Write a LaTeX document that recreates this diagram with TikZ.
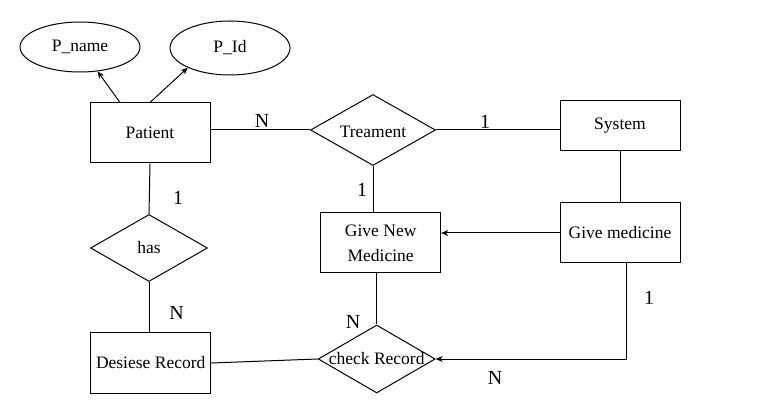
\documentclass[tikz,border=0pt]{standalone}
\usepackage{fontspec}
\setmainfont{Liberation Serif}
\usetikzlibrary{shapes.geometric,arrows.meta}
\begin{document}
\begin{tikzpicture}[x=1pt,y=-1pt,line width=1pt,
  ent/.style={draw,rectangle,minimum width=120pt,minimum height=60pt,inner sep=0pt,align=center,font=\fontsize{17.5}{25}\selectfont},
  attr/.style={draw,ellipse,minimum width=120pt,minimum height=52pt,inner sep=0pt,font=\fontsize{17.5}{22}\selectfont},
  rel/.style={draw,diamond,inner sep=0pt},
  rtext/.style={font=\fontsize{17.5}{22}\selectfont},
  card/.style={font=\fontsize{20}{24}\selectfont,inner sep=0pt},
  arr/.style={-{Stealth[length=7pt,width=6pt]}}]
\useasboundingbox (0,0) rectangle (761,414);
% entities
\node[ent] (pat) at (150,133) {Patient};
\node[ent,minimum height=50pt] (sys) at (620,126) {System};
\node[ent] (gmed) at (620,233) {Give medicine};
\node[ent] (gnm) at (380.7,243) {Give New\\Medicine};
\node[ent] (dr) at (150.7,363) {Desiese Record};
% attributes
\node[attr,minimum height=50pt] (pname) at (80,47) {P\_name};
\node[attr,minimum height=54pt] (pid) at (230,48) {P\_Id};
% relationships
\node[rel,minimum width=125pt,minimum height=71pt] (treat) at (373,130) {};
\node[rtext] (treattxt) at ([yshift=-1.5pt]treat.center) {Treament};
\node[rel,minimum width=117pt,minimum height=67pt] (has) at (149,248) {};
\node[rtext] (hastxt) at (has) {has};
\node[rel,minimum width=117pt,minimum height=68pt] (check) at (376.7,359) {};
\node[rtext] (checktxt) at (check) {check Record};
% connectors
\draw[arr] ([xshift=-30pt]pat.north) -- (pname);
\draw[arr] (pat.north) -- (pid.205);
\draw (pat.east |- treat) -- (treat.west);
\draw (treat.east) -- (sys.west |- treat.east);
\draw (sys.south) -- (gmed.north);
\draw (treat.south) -- (treat.south |- gnm.north);
\draw[arr] (gmed.west) -- (gmed.west -| gnm.east);
\draw (pat.south) -- (has.north);
\draw (has.south) -- (has.south |- dr.north);
\draw (dr.east) -- (check.west);
\draw (check.north |- gnm.south) -- (check.north);
\draw[arr] ([xshift=6pt]gmed.south) |- (check.east);
% cardinalities
\node[card] (c1) at (262,121) {N};
\node[card] (c2) at (485,122) {1};
\node[card] (c3) at (362,190) {1};
\node[card] (c4) at (178,198) {1};
\node[card] (c5) at (176.7,313) {N};
\node[card] (c6) at (353,322) {N};
\node[card] (c7) at (649,298) {1};
\node[card] (c8) at (495,378) {N};
\end{tikzpicture}
\end{document}
